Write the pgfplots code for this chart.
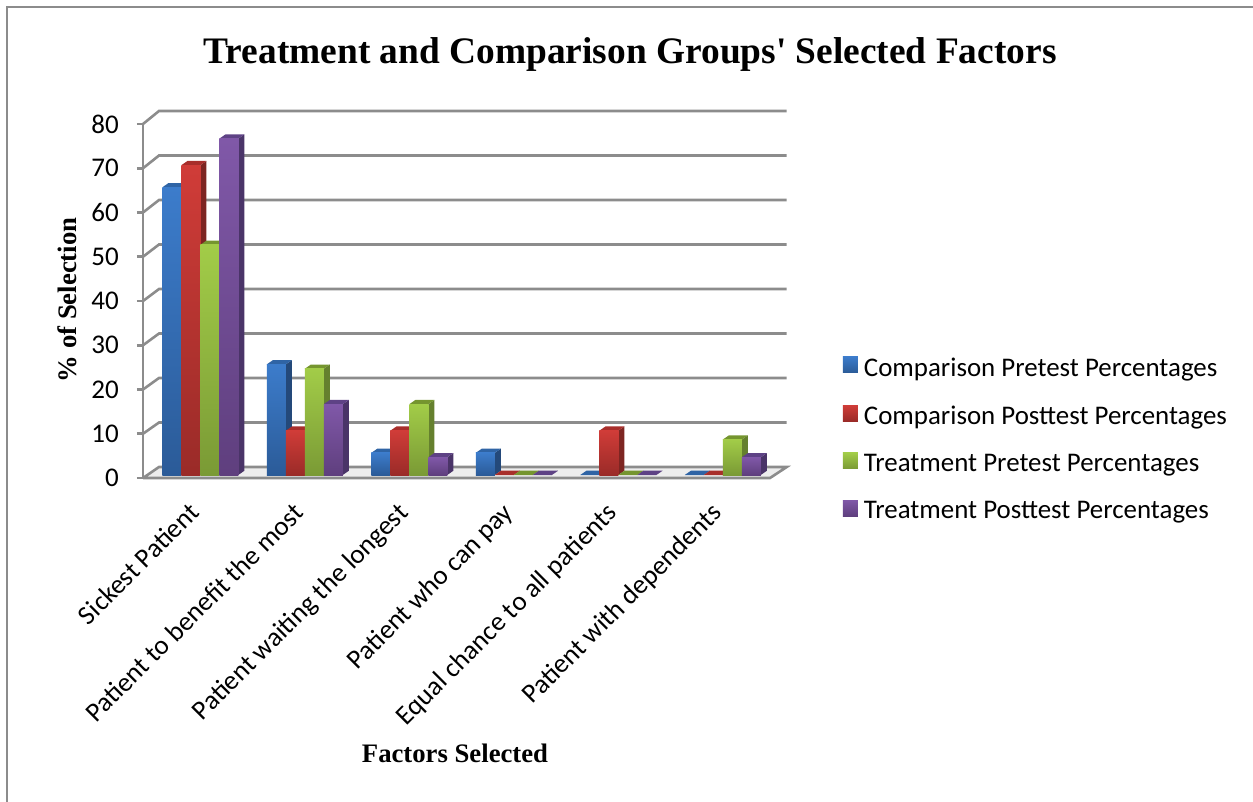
\documentclass[border=0pt]{standalone}
\usepackage{fontspec}
\setmainfont{Carlito}
\newfontfamily\serifb{Liberation Serif}[BoldFont={Liberation Serif Bold}]
\usepackage{pgfplots}
\usepackage{pgfplotstable}
\pgfplotsset{compat=1.18}
\definecolor{gridc}{HTML}{8C8C8C}
\definecolor{bT}{HTML}{3C7CCB}\definecolor{bB}{HTML}{2B5B98}\definecolor{bS}{HTML}{24497A}\definecolor{bU}{HTML}{2F64A5}
\definecolor{rT}{HTML}{D03C38}\definecolor{rB}{HTML}{9A2B28}\definecolor{rS}{HTML}{7D2522}\definecolor{rU}{HTML}{A82E2B}
\definecolor{gT}{HTML}{A2CC48}\definecolor{gB}{HTML}{7A9A35}\definecolor{gS}{HTML}{65802E}\definecolor{gU}{HTML}{75952F}
\definecolor{pT}{HTML}{8058A8}\definecolor{pB}{HTML}{5F3F7E}\definecolor{pS}{HTML}{4A3468}\definecolor{pU}{HTML}{5E4285}
\pgfplotstableread{
g cp cq tp tq
0 65 70 52 76
1 25 10 24 16
2 5 10 16 4
3 5 0 0 0
4 0 10 0 0
5 0 0 8 4
}\data
\pgfplotstableread{
v
2.486
12.54
22.6
32.65
42.71
52.77
62.82
72.88
82.94
}\gridtab
% #1 column, #2 shift in px, #3 top colour, #4 side colour, #5 front top, #6 front bottom
\newcommand\bars[6]{%
 \pgfplotsforeachungrouped \r in {0,...,5}{%
  \pgfplotstablegetelem{\r}{#1}\of\data
  \pgfmathsetmacro\v{\pgfplotsretval}%
  \pgfmathsetmacro\xl{\r+(#2-9.5)/104.5}%
  \pgfmathsetmacro\xr{\r+(#2+9.5)/104.5}%
  \pgfmathsetmacro\xll{\xl+6.2/104.5}%
  \pgfmathsetmacro\xrr{\xr+6.2/104.5}%
  \pgfmathsetmacro\vv{\v+4.3/4.425}%
  \edef\temp{\noexpand\addplot[forget plot,draw=none,fill=#4,xshift=5pt,yshift=3pt] coordinates {(\xr,\v) (\xrr,\vv) (\xrr,0.97) (\xr,0)};
   \noexpand\addplot[forget plot,draw=none,fill=#3,xshift=5pt,yshift=3pt] coordinates {(\xl,\v) (\xll,\vv) (\xrr,\vv) (\xr,\v)};}%
  \temp
  \ifdim\v pt>0pt
   \ifnum\r=0 \def\fp{}\else\def\fp{forget plot,}\fi
   \edef\temp{\noexpand\addplot[\fp ybar,bar width=19pt,bar shift=#2pt,draw=none,top color=#5,bottom color=#6,xshift=5pt,yshift=3pt] coordinates {(\r,\v)};}%
   \temp
  \fi
 }%
}
\begin{document}
\begin{tikzpicture}[x=1pt,y=1pt]
\path[use as bounding box] (0,0) rectangle (1253,-802);
\draw[gridc,line width=2pt] (7,-802) -- (7,-7.5) -- (1253,-7.5);
\begin{axis}[
 at={(143pt,-478pt)},anchor=south west,scale only axis,width=627pt,height=354pt,
 xmin=-0.5,xmax=5.5,ymin=0,ymax=80,clip=false,
 axis x line*=bottom,axis y line*=left,
 axis line style={gridc,line width=2.6pt},
 ytick={0,10,...,80},xtick={0,...,5},
 xticklabels={Sickest Patient,Patient to benefit the most,Patient waiting the longest,Patient who can pay,Equal chance to all patients,Patient with dependents},
 x tick label style={rotate=45,anchor=north east,inner sep=0pt,yshift=-6.3pt,xshift=-17.6pt},
 y tick label style={inner sep=0pt,xshift=-18pt},
 /pgf/number format/assume math mode=true,
 tick label style={font=\fontsize{27}{32}\selectfont,black},
 xtick style={draw=none},
 ytick style={gridc,line width=2.6pt},
 tick align=outside,major tick length=6pt,
 xlabel={\serifb\bfseries Factors Selected},
 ylabel={\serifb\bfseries \% of Selection},
 x label style={at={(axis description cs:0.4976,-0.777)},anchor=center,font=\fontsize{26.7}{30}\selectfont},
 y label style={at={(axis description cs:-0.121,0.503)},anchor=center,font=\fontsize{26.7}{30}\selectfont},
 title={\serifb\bfseries Treatment and Comparison Groups' Selected Factors},
 title style={at={(axis description cs:0.777,1.178)},anchor=center,font=\fontsize{37.4}{42}\selectfont},
 legend style={at={(axis description cs:1.116,0.11)},anchor=west,draw=none,fill=none,inner sep=0pt,
   font=\fontsize{26.9}{32}\selectfont,/tikz/row sep=24.4pt,cells={anchor=west}},
 legend cell align=left,
 legend image code/.code={\path[#1,draw=none] (0pt,-8pt) rectangle (15pt,8pt);\path (19pt,0pt);},
]
% floor
\addplot[forget plot,draw=gridc,line width=2.6pt,fill=black!7] coordinates {(-0.5,0) (5.5,0) (5.66,2.486) (-0.347,2.486) (-0.5,0)};
% back grid lines and side-wall diagonals
\pgfplotsforeachungrouped \k in {1,...,8}{%
  \pgfplotstablegetelem{\k}{v}\of\gridtab
  \pgfmathsetmacro\gv{\pgfplotsretval}%
  \pgfmathsetmacro\fv{\k*10}%
  \edef\temp{\noexpand\addplot[forget plot,gridc,line width=2.6pt] coordinates {(-0.5,\fv) (-0.347,\gv) (5.66,\gv)};}%
  \temp
}
\bars{cp}{-28.5}{bU}{bS}{bT}{bB}
\addlegendentry{Comparison Pretest Percentages}
\bars{cq}{-9.5}{rU}{rS}{rT}{rB}
\addlegendentry{Comparison Posttest Percentages}
\bars{tp}{9.5}{gU}{gS}{gT}{gB}
\addlegendentry{Treatment Pretest Percentages}
\bars{tq}{28.5}{pU}{pS}{pT}{pB}
\addlegendentry{Treatment Posttest Percentages}
\end{axis}
\end{tikzpicture}
\end{document}
